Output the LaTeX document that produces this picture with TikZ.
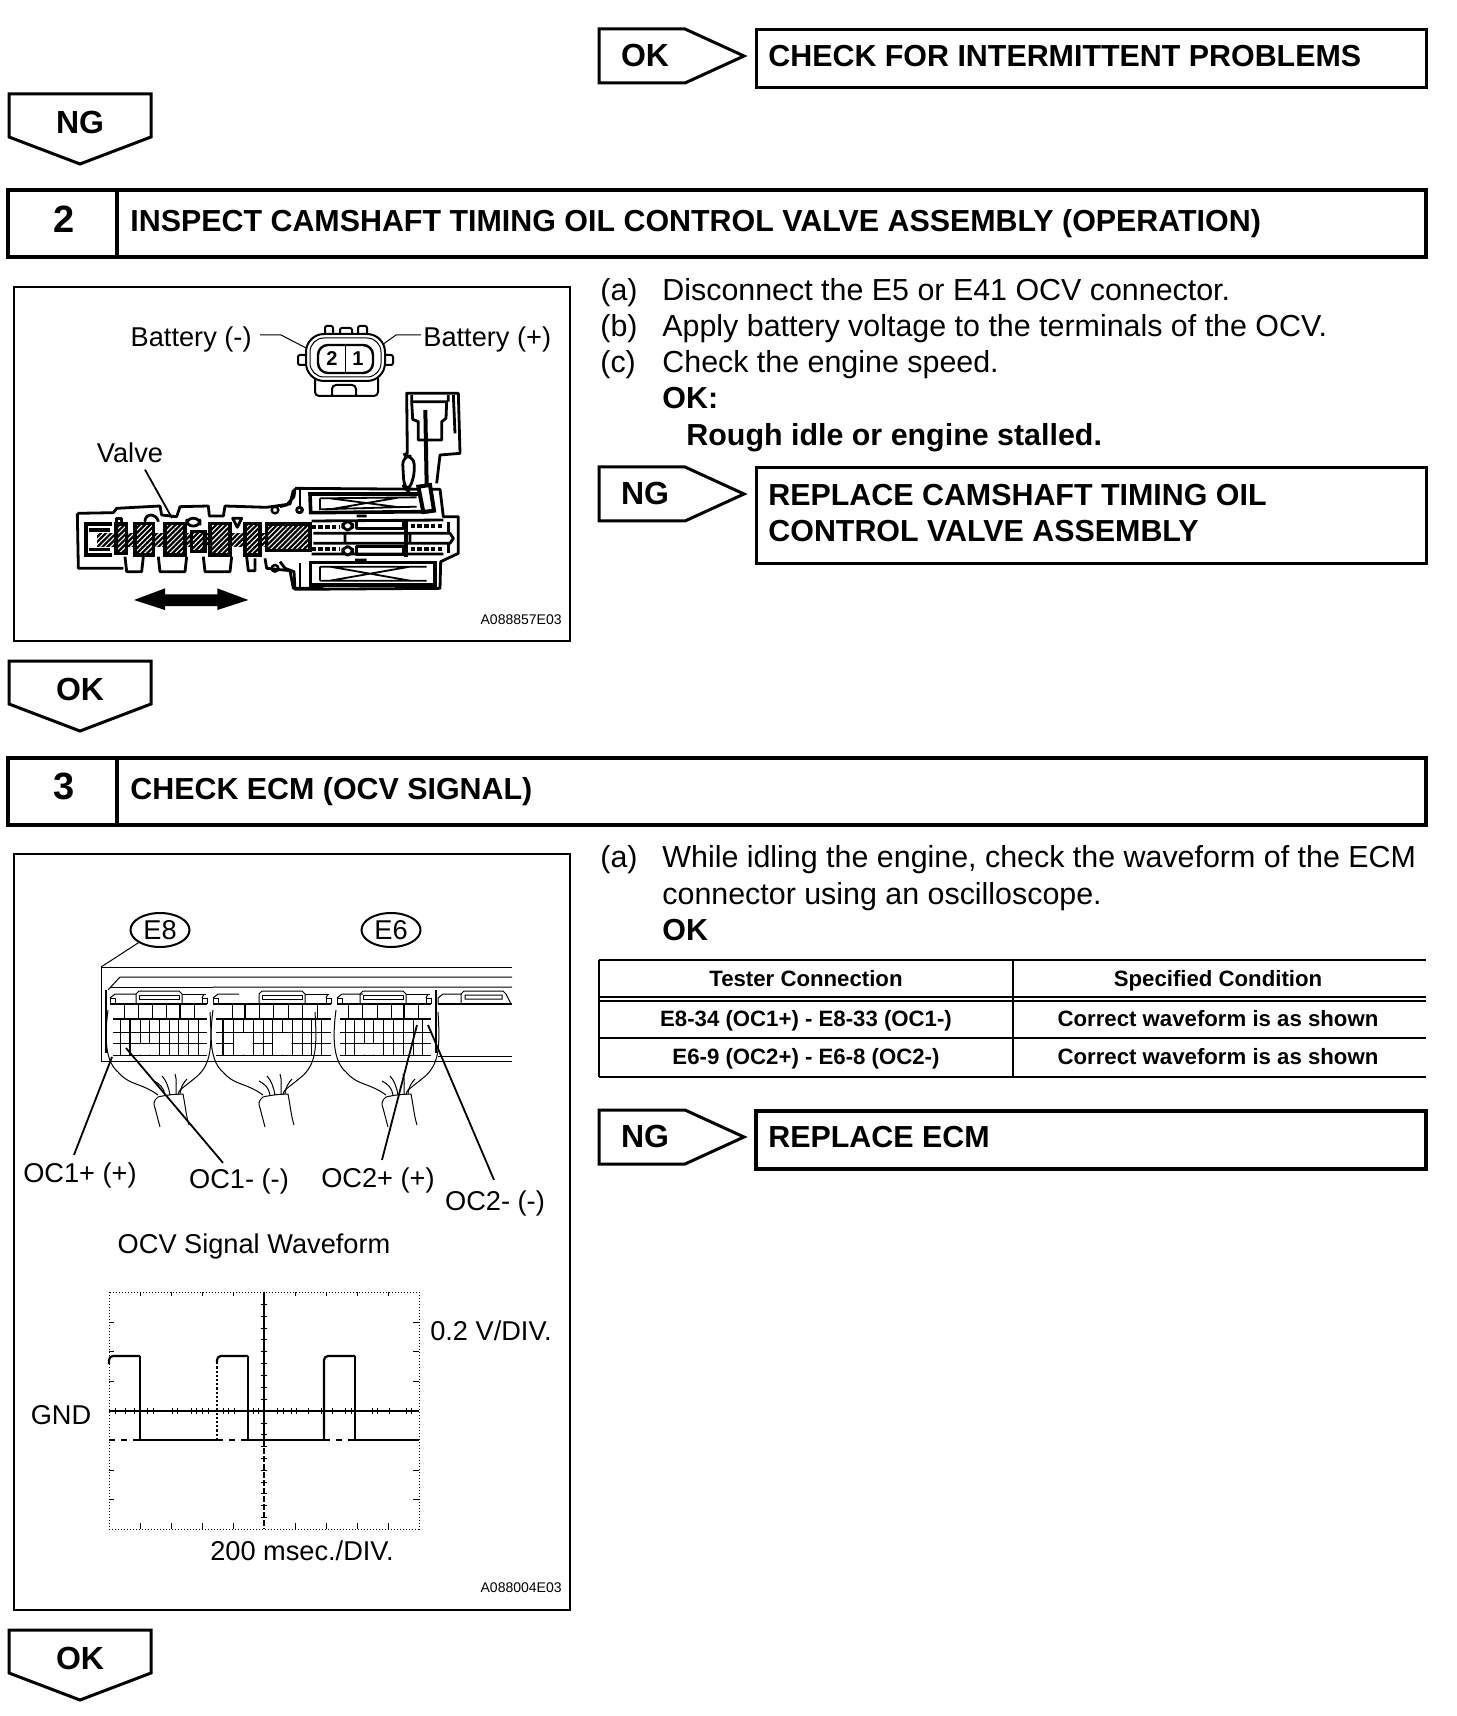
\documentclass[tikz,border=0pt]{standalone}
\usepackage{fontspec}
\setmainfont{Liberation Sans}
\usetikzlibrary{patterns.meta,shapes.geometric}
\tikzset{
  heavy/.style={line width=2pt},
  flagline/.style={line width=1.5pt,line join=miter},
  panel/.style={line width=1pt},
  thin line/.style={line width=0.5pt},
  leader/.style={line width=0.9pt},
  valveline/.style={line width=1.4pt,line join=round},
  hdrtxt/.style={font=\bfseries\fontsize{15.2}{18}\selectfont,anchor=base west,inner sep=0pt},
  numtxt/.style={font=\bfseries\fontsize{19}{22}\selectfont,inner sep=0pt},
  bodytxt/.style={font=\fontsize{15.2}{18}\selectfont,anchor=base west,inner sep=0pt},
  boldtxt/.style={font=\bfseries\fontsize{15.2}{18}\selectfont,anchor=base west,inner sep=0pt},
  flagtxt/.style={font=\bfseries\fontsize{16}{19}\selectfont,inner sep=0pt},
  celltxt/.style={font=\bfseries\fontsize{11.1}{13}\selectfont,anchor=base,inner sep=0pt},
  figtxt/.style={font=\fontsize{13.6}{16}\selectfont,anchor=base,inner sep=0pt},
  codetxt/.style={font=\fontsize{7}{8}\selectfont,anchor=east,inner sep=0pt},
  valveleft/.style={shift={(70,500)},x=0.16667pt,y=-0.16667pt},
  valveright/.style={shift={(280,390)},x=0.16667pt,y=-0.16667pt},
  hatchblock/.style={preaction={fill=black},pattern={Lines[angle=45,distance=1.8pt,line width=0.55pt]},pattern color=white},
}
% flag pointing down: x, y, name, text
\newcommand{\downflag}[4]{
  \draw[flagline] (#1,#2) -- (#1+142,#2) -- (#1+142,#2+43) -- (#1+71,#2+70) -- (#1,#2+43) -- cycle;
  \node[flagtxt] (#3) at (#1+71,#2+28) {#4};
}
% flag pointing right: x, y, name, text
\newcommand{\rightflag}[4]{
  \draw[flagline] (#1,#2) -- (#1+86,#2) -- (#1+145,#2+27) -- (#1+86,#2+54) -- (#1,#2+54) -- cycle;
  \node[flagtxt] (#3) at (#1+46,#2+26) {#4};
}
\begin{document}
\begin{tikzpicture}[x=0.5pt,y=-0.5pt]
  \useasboundingbox (0,0) rectangle (1456,1716);

  % top row
  \rightflag{599}{29}{okone}{OK}
  \draw[flagline] (756,30) rectangle (1426,88);
  \node[hdrtxt] (intermit) at (768,67) {CHECK FOR INTERMITTENT PROBLEMS};
  \downflag{9}{94}{ngone}{NG}

  % step 2
  \draw[heavy] (8,190) rectangle (1426,257);
  \draw[heavy] (117,190) -- (117,257);
  \node[numtxt] (numtwo) at (64,219) {2};
  \node[hdrtxt] (titletwo) at (130,232) {INSPECT CAMSHAFT TIMING OIL CONTROL VALVE ASSEMBLY (OPERATION)};
  \draw[panel] (14,287) rectangle (570,641);

  \node[bodytxt] (aa) at (600,301) {(a)};
  \node[bodytxt] (atxt) at (662,301) {Disconnect the E5 or E41 OCV connector.};
  \node[bodytxt] (bb) at (600,337) {(b)};
  \node[bodytxt] (btxt) at (662,337) {Apply battery voltage to the terminals of the OCV.};
  \node[bodytxt] (cc) at (600,373) {(c)};
  \node[bodytxt] (ctxt) at (662,373) {Check the engine speed.};
  \node[boldtxt] (oklbl) at (662,409) {OK:};
  \node[boldtxt] (rough) at (686,446) {Rough idle or engine stalled.};

  \rightflag{599}{467}{ngtwo}{NG}
  \draw[flagline] (756,468) rectangle (1426,563);
  \node[hdrtxt] (replaceone) at (768,506) {REPLACE CAMSHAFT TIMING OIL};
  \node[hdrtxt] (replacetwo) at (768,542) {CONTROL VALVE ASSEMBLY};

  % connector view
  \node[figtxt,anchor=base east] (batneg) at (252,347) {Battery (-)};
  \node[figtxt,anchor=base west] (batpos) at (423,347) {Battery (+)};
  \coordinate (batnegtip) at (310,350);
  \coordinate (batpostip) at (375,350);
  \draw[thin line] (batneg.east) ++(8,-5) -- (281,335) -- (batnegtip);
  \draw[thin line] (batpos.west) ++(-2,-5) -- (396,335) -- (batpostip);
  \draw[line width=1pt,rounded corners=1pt] (325,335) -- (325,326) -- (333,326) -- (333,335) (340,335) -- (340,328) -- (352,328) -- (352,335) (358,335) -- (358,326) -- (367,326) -- (367,335);
  \draw[line width=1pt,rounded corners=1pt] (306,355) -- (298,355) -- (298,365) -- (306,365) (386,355) -- (393,355) -- (393,365) -- (386,365);
  \draw[line width=1pt,rounded corners=2pt] (315,378) -- (315,396) -- (378,396) -- (378,378) (332,396) -- (332,385) -- (356,385) -- (356,396);
  \draw[line width=1pt,rounded corners=9pt,fill=white] (306,334) rectangle (385,381);
  \draw[thin line,rounded corners=7pt] (310,338) rectangle (381,377);
  \draw[line width=1.2pt,rounded corners=5pt] (318,345) rectangle (373,373);
  \draw[thin line] (345,345) -- (345,373);
  \node[font=\bfseries\fontsize{10}{12}\selectfont,inner sep=0pt] (pintwo) at (332,359) {2};
  \node[font=\bfseries\fontsize{10}{12}\selectfont,inner sep=0pt] (pinone) at (358,359) {1};

  % valve, spool side
  \node[figtxt] (valvelbl) at (130,463) {Valve};
  \coordinate (valvetip) at (172,518);
  \draw[leader] (valvelbl.south) ++(15,6) -- (valvetip);
  \begin{scope}[valveleft]
    \draw[valveline] (22,40) -- (130,38) -- (140,25) -- (195,22) -- (270,18) -- (275,45) -- (320,50) -- (330,20) -- (415,18) -- (418,48) -- (460,48) -- (465,18) -- (590,22) -- (660,12) -- (670,-30);
    \draw[valveline] (22,40) -- (25,205) -- (160,205);
    \draw[valveline] (165,170) -- (170,215) -- (215,215) -- (220,170);
    \draw[valveline] (265,170) -- (270,215) -- (345,215) -- (350,170);
    \draw[valveline] (400,170) -- (405,215) -- (480,215) -- (485,170);
    \draw[valveline] (530,170) -- (535,212) -- (555,212) -- (555,175) (585,175) -- (590,205) -- (660,212) -- (670,265) -- (760,265);
    \draw[valveline,rounded corners=3pt] (225,62) -- (225,45) -- (260,45) -- (265,65) (350,78) -- (350,55) -- (390,55) -- (390,78) -- cycle;
    \draw[valveline] (488,55) -- (515,55) -- (502,82) -- cycle;
    \draw[valveline] (140,75) -- (140,55) -- (155,55) -- (155,75);
    \draw[line width=1.6pt] (125,72) -- (48,72) -- (48,165) -- (125,165) (58,90) -- (120,90) (58,148) -- (120,148);
    \draw[line width=1.2pt] (615,30) circle (10) (615,205) circle (10) (690,30) circle (8);
    \fill[hatchblock] (80,98) rectangle (720,142);
    \foreach \xa/\xb/\ya/\yb in {138/170/72/160, 195/250/70/165, 285/345/70/165, 365/405/95/155, 420/480/70/165, 525/570/70/165, 590/720/72/152} {
      \fill[hatchblock] (\xa,\ya) rectangle (\xb,\yb);
      \draw[line width=1.8pt] (\xa,\ya) rectangle (\xb,\yb);
    }
    \fill (192,300) -- (285,265) -- (285,283) -- (442,283) -- (442,265) -- (535,300) -- (442,330) -- (442,318) -- (285,318) -- (285,330) -- cycle;
  \end{scope}

  % valve, solenoid side
  \begin{scope}[valveright]
    \draw[valveline] (45,295) -- (480,298) -- (490,380) -- (535,380) -- (535,490) -- (482,515) -- (480,595) -- (45,598) -- (42,545) -- (15,535) -- (0,515);
    \draw[valveline] (45,295) -- (42,320) -- (20,345) -- (0,350);
    \draw[valveline] (60,300) -- (60,360) (60,520) -- (60,598);
    \draw[valveline,fill=white] (58,360) circle (8);
    \draw[valveline] (370,195) -- (382,190) -- (380,10) -- (535,10) -- (540,190) -- (480,195) -- (470,280);
    \draw[valveline,rounded corners=4pt] (367,200) -- (400,197) -- (405,250) -- (385,305) -- (372,290) -- cycle;
    \draw[valveline] (395,35) -- (500,35) -- (498,85) -- (485,95) -- (485,150) -- (415,150) -- (415,95) -- (398,88) -- cycle;
    \draw[valveline] (395,15) -- (395,35) (505,15) -- (505,35) (520,15) -- (525,130);
    \draw[line width=2pt] (436,60) -- (440,285);
    \draw[line width=1.8pt] (90,312) -- (420,312) -- (440,365) -- (92,368) -- cycle;
    \draw[line width=2pt,fill=white] (415,290) -- (450,285) -- (462,362) -- (430,366) -- cycle;
    \draw[line width=0.9pt] (120,325) -- (120,358) -- (410,350) (120,325) -- (410,322) (150,325) -- (360,352) (150,358) -- (360,322);
    \draw[line width=1.8pt] (92,518) rectangle (465,585);
    \draw[line width=0.9pt] (120,530) -- (440,530) (120,572) -- (440,572) (120,530) -- (120,572) (150,530) -- (390,572) (150,572) -- (390,530);
    \draw[valveline] (95,393) -- (490,390) (95,492) -- (490,492) (230,378) -- (260,378) (225,510) -- (260,510);
    \draw[valveline] (100,430) -- (510,430) -- (520,445) -- (510,460) -- (100,460) (195,430) -- (195,460) (390,430) -- (390,460);
    \draw[valveline] (230,393) rectangle (370,415) (230,470) rectangle (370,495);
    \draw[valveline,fill=white,rounded corners=3pt] (188,395) rectangle (218,420) (188,470) rectangle (218,495);
    \draw[line width=2pt,dash pattern=on 2.2pt off 1.2pt] (95,410) -- (180,410) (95,478) -- (180,478) (392,408) -- (490,408) (392,478) -- (490,478);
    \draw[line width=2pt] (378,388) -- (378,500);
    \draw[valveline] (505,395) -- (505,430) (505,460) -- (505,490);
  \end{scope}
  \node[codetxt] (codeone) at (562,620) {A088857E03};

  \downflag{9}{661}{oktwo}{OK}

  % step 3
  \draw[heavy] (8,758) rectangle (1426,825);
  \draw[heavy] (117,758) -- (117,825);
  \node[numtxt] (numthree) at (64,786) {3};
  \node[hdrtxt] (titlethree) at (130,799) {CHECK ECM (OCV SIGNAL)};
  \draw[panel] (14,854) rectangle (570,1610);

  \node[bodytxt] (dd) at (600,867) {(a)};
  \node[bodytxt] (dtxt) at (662,867) {While idling the engine, check the waveform of the ECM};
  \node[bodytxt] (dline) at (662,904) {connector using an oscilloscope.};
  \node[boldtxt] (oklbltwo) at (662,940) {OK};

  % table
  \draw[line width=1pt] (599,960) -- (1426,960) (599,997) -- (1426,997) (599,1001) -- (1426,1001) (599,1038) -- (1426,1038) (599,1077) -- (1426,1077) (599,960) -- (599,1077) (1013,960) -- (1013,1077);
  \node[celltxt] (testhd) at (806,986) {Tester Connection};
  \node[celltxt] (spechd) at (1218,986) {Specified Condition};
  \node[celltxt] (testone) at (806,1026) {E8-34 (OC1+) - E8-33 (OC1-)};
  \node[celltxt] (specone) at (1218,1026) {Correct waveform is as shown};
  \node[celltxt] (testtwo) at (806,1064) {E6-9 (OC2+) - E6-8 (OC2-)};
  \node[celltxt] (spectwo) at (1218,1064) {Correct waveform is as shown};

  \rightflag{599}{1110}{ngthree}{NG}
  \draw[heavy] (756,1111) rectangle (1426,1169);
  \node[hdrtxt] (replaceecm) at (768,1147) {REPLACE ECM};

  % ECM connectors
  \node[figtxt,anchor=center,draw,ellipse,line width=1pt,minimum width=29.5pt,minimum height=17pt] (eight) at (160,930) {E8};
  \node[figtxt,anchor=center,draw,ellipse,line width=1pt,minimum width=29.5pt,minimum height=17pt] (six) at (391,930) {E6};
  \coordinate (casetip) at (101,967);
  \draw[thin line] (eight.south west) -- (casetip);
  \draw[thin line] (casetip) -- (512,967) (casetip) -- (101,1061) -- (512,1061);
  \draw[thin line] (120,977) -- (512,977) (512,987) -- (213,987) (120,977) -- (108,990);
  \draw[thin line] (213,987) -- (110,987) (438,1056) -- (512,1056);
  \draw[line width=1pt] (106,990) -- (106,1053);
  \foreach \xa/\xb in {110/207, 213/331, 337/431} {
    \draw[line width=1.1pt] (\xa,1004) -- (\xb,1004);
    \draw[line width=1.1pt] (\xa+3,1019) -- (\xb,1019);
    \draw[thin line] (\xa,1004) -- (\xa,998) -- (\xa+5,998) -- (\xa+5,1004) (\xb-5,1004) -- (\xb-5,998) -- (\xb,998) -- (\xb,1004);
    \draw[thin line] (\xa,998) -- (\xa+5,994) -- (\xa+26,994) (\xb-5,998) -- (\xb-3,994);
    \draw[thin line] (\xa+3,1032) -- (\xb,1032) (\xa+3,1043) -- (\xb,1043) (\xa+3,1055) -- (\xb,1055);
  }
  \foreach \xx in {136, 259, 360} {
    \draw[thin line] (\xx,1004) -- (\xx,994) -- (\xx+3,991) -- (\xx+43,991) -- (\xx+46,994) -- (\xx+46,1004);
    \draw[thin line] (\xx+3,995) rectangle (\xx+43,999);
    \draw[thin line] (\xx+46,994) -- (\xx+70,994);
  }
  \draw[line width=1.1pt] (438,1004) -- (512,1004);
  \draw[thin line] (461,1004) -- (461,994) -- (464,991) -- (503,991) -- (506,994) -- (511,1004);
  \draw[thin line] (465,995) rectangle (502,999) (438,1004) -- (438,998) -- (443,994) -- (461,994);
  \draw[line width=1pt] (436,990) -- (436,1053);
  \foreach \xx in {124,138,152,166,194, 232,259,273,288,302,317, 348,362,377,391,418}
    \draw[thin line] (\xx,1004) -- (\xx,1019);
  \foreach \xx in {180,245,404}
    \draw[line width=1.1pt] (\xx,1004) -- (\xx,1019);
  \foreach \xx in {120,140,149,159,169,178,188,198, 233,243,253,263,272,282,292,302,311,321, 345,354,364,373,383,393,403,413,422}
    \draw[thin line] (\xx,1019) -- (\xx,1055);
  \foreach \xx in {130,223}
    \draw[line width=1.1pt] (\xx,1019) -- (\xx,1055);
  \fill[white] (131,1044) rectangle (158.7,1054.7) (234,1033) rectangle (252.7,1054.7) (273,1033) rectangle (291.7,1054.7) (355,1044) rectangle (382.7,1054.7);

  % harnesses
  \foreach \dx in {0,105,228} {
    \begin{scope}[shift={(\dx,0)}]
      \draw[thin line] (108,1010) .. controls (104,1040) and (106,1062) .. (118,1072) .. controls (130,1086) and (140,1082) .. (158,1095);
      \draw[thin line] (210,1012) .. controls (212,1045) and (212,1065) .. (195,1078) .. controls (183,1088) and (178,1090) .. (178,1095);
      \draw[thin line] (158,1097) .. controls (166,1095) and (176,1094) .. (183,1094) .. controls (186,1110) and (186,1115) .. (189,1125);
      \draw[thin line] (158,1097) .. controls (154,1100) and (153,1104) .. (155,1108) -- (160,1127);
      \draw[thin line] (165,1095) .. controls (164,1088) and (160,1084) .. (154,1081) (170,1095) .. controls (169,1088) and (166,1080) .. (162,1076) (176,1094) .. controls (176,1086) and (177,1080) .. (175,1074) (180,1094) .. controls (180,1088) and (184,1082) .. (187,1079);
    \end{scope}
  }

  % pin leaders
  \node[figtxt] (ocap) at (80,1182) {OC1+ (+)};
  \node[figtxt] (ocam) at (239,1188) {OC1- (-)};
  \node[figtxt] (ocbp) at (378,1187) {OC2+ (+)};
  \node[figtxt] (ocbm) at (495,1210) {OC2- (-)};
  \coordinate (ocaptip) at (112,1057);
  \coordinate (ocamtip) at (126,1048);
  \coordinate (ocbptip) at (417,1025);
  \coordinate (ocbmtip) at (428,1025);
  \draw[leader] (ocap.north) ++(-6,-7) -- (ocaptip);
  \draw[leader] (ocam.north) ++(-16,-5) -- (ocamtip);
  \draw[leader] (ocbp.north) ++(4,-7) -- (ocbptip);
  \draw[leader] (ocbm.north) ++(-1,-10) -- (ocbmtip);

  % waveform
  \node[figtxt] (wavetitle) at (254,1253) {OCV Signal Waveform};
  \draw[thin line,densely dotted] (109,1292) rectangle (419,1529);
  \foreach \xx in {140,171,202,233,295,326,357,388} {
    \draw[thin line] (\xx,1292) -- (\xx,1296);
    \draw[thin line] (\xx,1529) -- (\xx,1523);
  }
  \foreach \yy in {1322,1351,1381,1470,1499} {
    \draw[thin line] (109,\yy) -- (114,\yy);
    \draw[thin line] (419,\yy) -- (413,\yy);
  }
  \draw[line width=0.6pt] (109,1411) -- (419,1411);
  \draw[line width=1pt] (264,1292) -- (264,1440);
  \draw[line width=1pt,dash pattern=on 3pt off 1pt] (264,1440) -- (264,1529);
  \foreach \xx in {115,125,134,147,153,172,177,191,196,202,208,223,228,234,247,253,258,277,283,291,296,308,321,332,345,351,372,377,389,406,411}
    \draw[thin line] (\xx,1408) -- (\xx,1414);
  \foreach \yy in {1304,1316,1328,1339,1351,1363,1375,1387,1399,1423,1434,1446,1458,1470,1482,1493,1505,1517}
    \draw[thin line] (261,\yy) -- (267,\yy);
  \draw[line width=1.1pt,rounded corners=2pt] (109,1364) -- (109,1356) -- (140,1356);
  \draw[line width=1.1pt] (140,1356) -- (140,1440) -- (217,1440);
  \draw[line width=1.1pt,densely dotted] (217,1440) -- (217,1362);
  \draw[line width=1.1pt,rounded corners=2pt] (217,1362) -- (217,1356) -- (248,1356);
  \draw[line width=1.1pt] (248,1356) -- (248,1440) -- (324,1440);
  \draw[line width=1.1pt,rounded corners=2pt] (324,1440) -- (324,1356) -- (355,1356);
  \draw[line width=1.1pt] (355,1356) -- (355,1440) -- (419,1440);
  \draw[line width=1.1pt,dashed] (109,1440) -- (140,1440) (217,1440) -- (248,1440) (324,1440) -- (355,1440);
  \node[figtxt] (vdiv) at (491,1340) {0.2 V/DIV.};
  \node[figtxt] (gndlbl) at (61,1424) {GND};
  \node[figtxt] (msdiv) at (302,1560) {200 msec./DIV.};
  \node[codetxt] (codetwo) at (562,1588) {A088004E03};

  \downflag{9}{1630}{okthree}{OK}
\end{tikzpicture}
\end{document}
